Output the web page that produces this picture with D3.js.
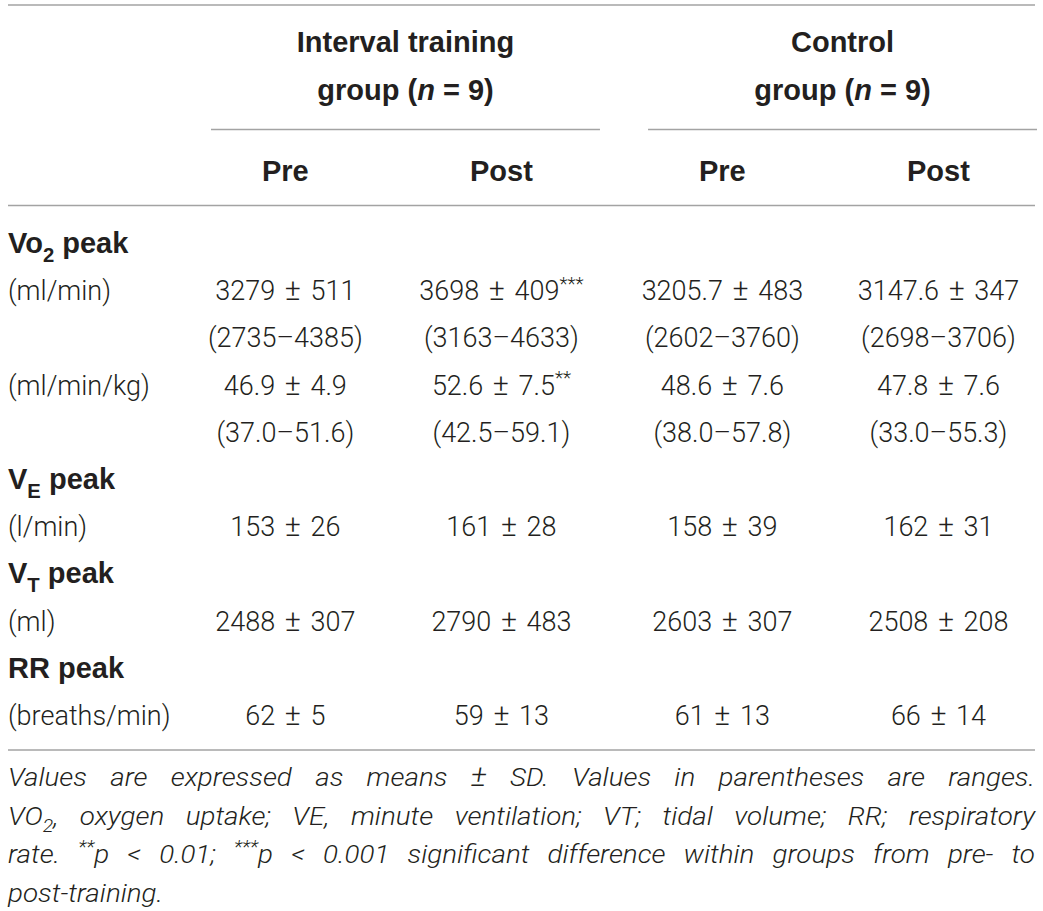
<!DOCTYPE html>
<html lang="en">
<head>
<meta charset="UTF-8">
<title>Peak cardiorespiratory values</title>
<style>
  body { margin: 0; background: #fff; }
  svg { display: block; }
</style>
</head>
<body>
<svg></svg>
<script src="https://d3js.org/d3.v7.min.js"></script>
<script>
// groups and columns
const groups = ["Interval training", "Control"];
const groupN = [9, 9];
const phases = ["Pre", "Post"];

// VO2 peak, absolute (ml/min)
const vo2AbsMean = [3279, 3698, 3205.7, 3147.6];
const vo2AbsSD = [511, 409, 483, 347];
const vo2AbsMin = [2735, 3163, 2602, 2698];
const vo2AbsMax = [4385, 4633, 3760, 3706];
const vo2AbsSig = ["", "***", "", ""];

// VO2 peak, relative (ml/min/kg)
const vo2RelMean = [46.9, 52.6, 48.6, 47.8];
const vo2RelSD = [4.9, 7.5, 7.6, 7.6];
const vo2RelMin = [37.0, 42.5, 38.0, 33.0];
const vo2RelMax = [51.6, 59.1, 57.8, 55.3];
const vo2RelSig = ["", "**", "", ""];

// VE peak (l/min)
const veMean = [153, 161, 158, 162];
const veSD = [26, 28, 39, 31];

// VT peak (ml)
const vtMean = [2488, 2790, 2603, 2508];
const vtSD = [307, 483, 307, 208];

// RR peak (breaths/min)
const rrMean = [62, 59, 61, 66];
const rrSD = [5, 13, 13, 14];

const noteLines = [
  "Values are expressed as means <big>±</big> SD. Values in parentheses are ranges.",
  "VO<sub>2</sub>, oxygen uptake; VE, minute ventilation; VT; tidal volume; RR; respiratory",
  "rate. <sup>**</sup>p < 0.01; <sup>***</sup>p < 0.001 significant difference within groups from pre- to",
  "post-training."
];

const W = 1043, H = 911;
const ink = "#231f20";
const ruleColor = "#a3a3a3";

const svg = d3.select("svg").attr("width", W).attr("height", H);
svg.append("rect").attr("width", W).attr("height", H).attr("fill", "#fff");

const fmt1 = d3.format(".1f");
const pm = (m, s, sig, f) => m.map((v, i) => f(v) + " <big>±</big> " + f(s[i]) + (sig && sig[i] ? "<sup>" + sig[i] + "</sup>" : ""));
const rng = (lo, hi, f) => lo.map((v, i) => "(" + f(v) + "–" + f(hi[i]) + ")");

const rows = [
  { key: "vo2", label: "Vo<sub>2</sub> peak", head: true },
  { key: "vo2abs", label: "(ml/min)", values: pm(vo2AbsMean, vo2AbsSD, vo2AbsSig, String) },
  { key: "vo2absR", label: "", values: rng(vo2AbsMin, vo2AbsMax, String) },
  { key: "vo2rel", label: "(ml/min/kg)", values: pm(vo2RelMean, vo2RelSD, vo2RelSig, fmt1) },
  { key: "vo2relR", label: "", values: rng(vo2RelMin, vo2RelMax, fmt1) },
  { key: "ve", label: "V<sub>E</sub> peak", head: true },
  { key: "veV", label: "(l/min)", values: pm(veMean, veSD, null, String) },
  { key: "vt", label: "V<sub>T</sub> peak", head: true },
  { key: "vtV", label: "(ml)", values: pm(vtMean, vtSD, null, String) },
  { key: "rr", label: "RR peak", head: true },
  { key: "rrV", label: "(breaths/min)", values: pm(rrMean, rrSD, null, String) }
];

// scales
const gx = d3.scaleBand().domain(groups).range([211, 1037]).paddingInner(0.11);
const px = d3.scalePoint().domain(phases).range([0, gx.bandwidth()]).padding(0.4).align(0.43);
const colX = (gi, pi) => gx(groups[gi]) + px(phases[pi]);
const y = d3.scalePoint().domain(rows.map(r => r.key)).range([243, 715]);

// rich text: <sub>, <sup>, <i>, <big>
function rich(t, str, fs) {
  const parts = str.split(/(<(?:sub|sup|i|big)>.*?<\/(?:sub|sup|i|big)>)/).filter(s => s.length);
  let shift = 0;
  parts.forEach(p => {
    const m = p.match(/^<(sub|sup|i|big)>(.*)<\/\1>$/);
    if (m && (m[1] === "sub" || m[1] === "sup")) {
      const d = m[1] === "sub" ? fs * 0.3 : -fs * 0.38;
      t.append("tspan").attr("dy", d - shift).attr("font-size", fs * 0.7).text(m[2]);
      shift = d;
    } else {
      const ts = t.append("tspan").attr("dy", -shift).text(m ? m[2] : p);
      if (m && m[1] === "i") ts.attr("font-style", "italic");
      if (m && m[1] === "big") ts.attr("font-size", fs * 1.12);
      shift = 0;
    }
  });
  return t;
}

const rule = (x1, x2, yy) => svg.append("line")
  .attr("x1", x1).attr("x2", x2).attr("y1", yy).attr("y2", yy)
  .attr("stroke", ruleColor).attr("stroke-width", 1.6);

// header
const bold = "'Liberation Sans', Arial, Helvetica, sans-serif";
const light = "Roboto, 'Liberation Sans', sans-serif";
const bfs = 29, dfs = 27;

rule(8, 1035, 5);
groups.forEach((g, gi) => {
  const cx = gx(g) + gx.bandwidth() / 2;
  svg.append("text").attr("x", cx).attr("y", 52).attr("text-anchor", "middle")
    .attr("font-family", bold).attr("font-weight", 700).attr("font-size", bfs).attr("fill", ink)
    .text(g);
  rich(svg.append("text").attr("x", cx).attr("y", 100).attr("text-anchor", "middle")
    .attr("font-family", bold).attr("font-weight", 700).attr("font-size", bfs).attr("fill", ink),
    "group (<i>n</i> = " + groupN[gi] + ")", bfs);
  rule(gx(g), gx(g) + gx.bandwidth(), 129.5);
  phases.forEach((p, pi) => {
    svg.append("text").attr("x", colX(gi, pi)).attr("y", 181).attr("text-anchor", "middle")
      .attr("font-family", bold).attr("font-weight", 700).attr("font-size", bfs).attr("fill", ink)
      .text(p);
  });
});
rule(8, 1035, 205.5);

// body
rows.forEach(r => {
  const yy = y(r.key) + 10;
  if (r.label) {
    rich(svg.append("text").attr("x", 8).attr("y", yy)
      .attr("font-family", r.head ? bold : light)
      .attr("font-weight", r.head ? 700 : 300)
      .attr("font-size", r.head ? bfs : dfs).attr("fill", ink), r.label, r.head ? bfs : dfs);
  }
  if (r.values) {
    r.values.forEach((v, i) => {
      rich(svg.append("text").attr("x", colX(Math.floor(i / 2), i % 2)).attr("y", yy)
        .attr("text-anchor", "middle").attr("font-family", light).attr("font-weight", 300)
        .attr("word-spacing", 3)
        .attr("font-size", dfs).attr("fill", ink), v, dfs);
    });
  }
});
rule(8, 1035, 750);

// footnote, justified
const noteY = d3.scalePoint().domain(d3.range(noteLines.length)).range([786, 902]);
const stretch = 1.07;
const nfs = 26;
const lineW = (1035 - 8) / stretch;
noteLines.forEach((line, li) => {
  const g = svg.append("g").attr("transform", `translate(8,${noteY(li)}) scale(${stretch},1)`);
  const words = line.split(" ");
  const nodes = words.map(w => rich(g.append("text")
    .attr("font-family", light).attr("font-weight", 300).attr("font-style", "italic")
    .attr("font-size", nfs).attr("fill", ink), w, nfs));
  const widths = nodes.map(n => n.node().getComputedTextLength());
  const last = li === noteLines.length - 1;
  const gap = last ? 7 : (lineW - d3.sum(widths)) / (words.length - 1);
  let x = 0;
  nodes.forEach((n, i) => { n.attr("x", x); x += widths[i] + gap; });
});
</script>
</body>
</html>
